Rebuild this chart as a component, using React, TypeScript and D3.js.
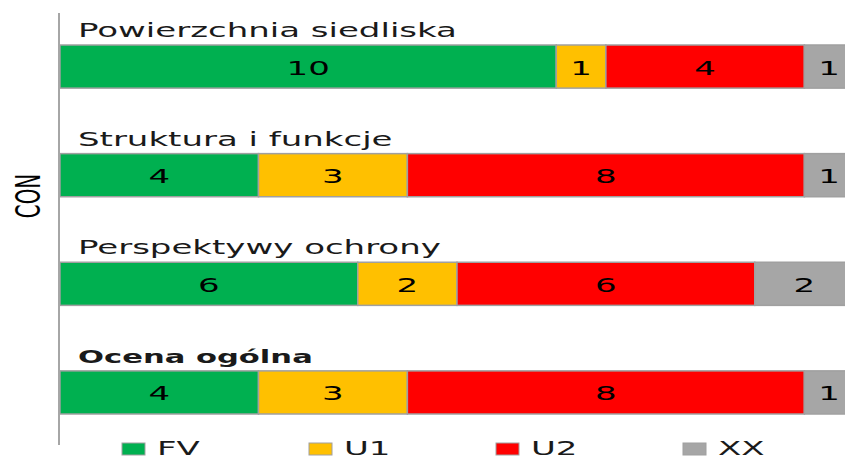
import { useEffect, useRef } from 'react';
import * as d3 from 'd3';

const rows = ['Powierzchnia siedliska', 'Struktura i funkcje', 'Perspektywy ochrony', 'Ocena ogólna'];
const categories = ['FV', 'U1', 'U2', 'XX'];
const fv = [10, 4, 6, 4];
const u1 = [1, 3, 2, 3];
const u2 = [4, 8, 6, 8];
const xx = [1, 1, 2, 1];
const colors = ['#00b050', '#ffc000', '#ff0000', '#a6a6a6'];
const axisLabel = 'CON';

export default function App() {
  const svgRef = useRef<SVGSVGElement>(null);

  useEffect(() => {
    if (!svgRef.current) return;
    const svg = d3.select(svgRef.current);
    svg.selectAll('*').remove();

    const width = 845;
    const height = 457;
    const stretch = 1.7;
    const font = 'DejaVu Sans, Verdana, sans-serif';

    const table = rows.map((name, i) => ({ name, FV: fv[i], U1: u1[i], U2: u2[i], XX: xx[i] }));
    const stacked = d3.stack<any>().keys(categories)(table);

    const x = d3.scaleLinear().domain([0, 16]).range([60, 854]);
    const y = d3.scaleBand().domain(rows).range([45, 414]).paddingInner(0.603).paddingOuter(0);
    const color = d3.scaleOrdinal<string>().domain(categories).range(colors);

    svg.append('rect').attr('width', width).attr('height', height).attr('fill', 'white');

    // segments
    const layer = svg.selectAll('.layer')
      .data(stacked)
      .enter().append('g')
      .attr('class', 'layer')
      .attr('fill', d => color(d.key));

    layer.selectAll('rect')
      .data(d => d.map(s => ({ s, key: d.key })))
      .enter().append('rect')
      .attr('x', d => x(d.s[0]))
      .attr('y', d => y(d.s.data.name)!)
      .attr('width', d => x(d.s[1]) - x(d.s[0]))
      .attr('height', y.bandwidth())
      .attr('stroke', '#a0a0a0')
      .attr('stroke-width', 1.5);

    // values
    stacked.forEach(series => {
      series.forEach(s => {
        const cx = (x(s[0]) + x(s[1])) / 2;
        const cy = y(s.data.name)! + y.bandwidth() / 2 + 8;
        svg.append('text')
          .attr('transform', `translate(${cx},${cy}) scale(${stretch},1)`)
          .attr('text-anchor', 'middle')
          .style('font-family', font)
          .style('font-size', '20px')
          .attr('fill', '#000')
          .text(s[1] - s[0]);
      });
    });

    // row titles
    rows.forEach((name, i) => {
      const bold = i === rows.length - 1;
      svg.append('text')
        .attr('transform', `translate(78,${y(name)! - 8}) scale(${stretch},1)`)
        .style('font-family', font)
        .style('font-size', bold ? '18px' : '20px')
        .style('font-weight', bold ? 'bold' : 'normal')
        .attr('fill', '#1a1a1a')
        .text(name);
    });

    // axis line
    svg.append('line')
      .attr('x1', 59).attr('x2', 59)
      .attr('y1', 13).attr('y2', 445)
      .attr('stroke', '#a6a6a6')
      .attr('stroke-width', 2);

    // axis label
    svg.append('text')
      .attr('transform', `translate(40,196) scale(${stretch},1) rotate(-90)`)
      .attr('text-anchor', 'middle')
      .style('font-family', font)
      .style('font-size', '20px')
      .attr('fill', '#000')
      .text(axisLabel);

    // legend
    const legend = svg.selectAll('.legend')
      .data(categories)
      .enter().append('g')
      .attr('class', 'legend')
      .attr('transform', (_, i) => `translate(${122 + i * 187},443)`);

    legend.append('rect')
      .attr('width', 23)
      .attr('height', 12)
      .attr('fill', d => color(d))
      .attr('stroke', '#a0a0a0')
      .attr('stroke-width', 1);

    legend.append('text')
      .attr('transform', `translate(35,12) scale(${stretch},1)`)
      .style('font-family', font)
      .style('font-size', '20px')
      .attr('fill', '#1a1a1a')
      .text(d => d);
  }, []);

  return (
    <div style={{ position: 'absolute', left: 0, top: 0 }}>
      <svg ref={svgRef} width={845} height={457} style={{ display: 'block', overflow: 'hidden' }} />
    </div>
  );
}
